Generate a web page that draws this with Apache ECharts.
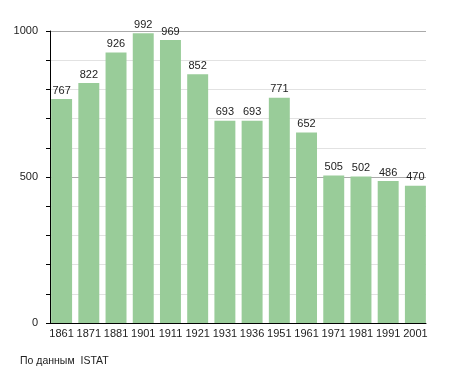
<!DOCTYPE html>
<html><head><meta charset="utf-8">
<script src="https://cdn.jsdelivr.net/npm/echarts@6/dist/echarts.min.js"></script>
<style>html,body{margin:0;padding:0;background:#fff}#c{width:455px;height:373px}</style>
</head><body><div id="c"></div>
<script>
const years = ['1861','1871','1881','1901','1911','1921','1931','1936','1951','1961','1971','1981','1991','2001'];
const population = [767,822,926,992,969,852,693,693,771,652,505,502,486,470];
const yLabels = [0,500,1000];
const F = '"Liberation Sans", Arial, sans-serif';
const chart = echarts.init(document.getElementById('c'), null, {renderer:'canvas'});
chart.setOption({
  animation:false,
  title:{text:'По данным  ISTAT', left:20, top:356, padding:0, textStyle:{fontFamily:F, fontSize:10.5, fontWeight:'normal', color:'#222'}},
  grid:[{left:48, right:26, top:31, bottom:50},{left:50, right:29, top:31, bottom:50}],
  xAxis:[{type:'category', data:years, gridIndex:0,
    axisLine:{show:false}, axisTick:{show:false},
    axisLabel:{fontFamily:F, fontSize:11, color:'#222', margin:5, interval:0}},
    {type:'category', data:years, gridIndex:1,
    axisLine:{show:true, lineStyle:{color:'#000', width:1}}, axisTick:{show:false}, axisLabel:{show:false}}],
  yAxis:[{type:'value', min:0, max:1000, interval:100, gridIndex:0, show:false, splitLine:{show:false}},
    {type:'value', min:0, max:1000, interval:100, gridIndex:1,
    axisLine:{show:true, lineStyle:{color:'#000'}},
    axisTick:{show:true, length:4, lineStyle:{color:'#000'}},
    axisLabel:{fontFamily:F, fontSize:11, color:'#222', margin:12,
      formatter:v => yLabels.includes(v) ? String(v) : ''},
    splitLine:{show:true, lineStyle:{color:['#aaaaaa','#e2e2e2','#e2e2e2','#e2e2e2','#e2e2e2'], width:1}}}],
  series:[{type:'bar', data:population, xAxisIndex:0, yAxisIndex:0, barCategoryGap:'23%', itemStyle:{color:'#99cc99'},
    label:{show:true, position:'top', distance:3, fontFamily:F, fontSize:11, color:'#222'}}]
});
</script></body></html>
